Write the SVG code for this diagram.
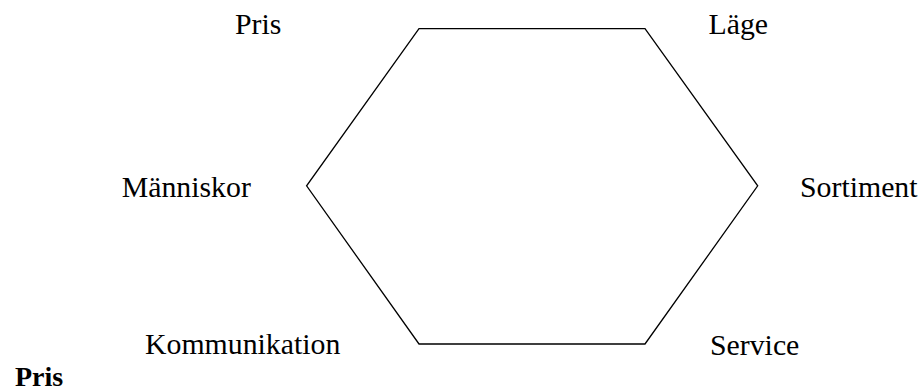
<svg xmlns="http://www.w3.org/2000/svg" width="920" height="391" viewBox="0 0 920 391">
<style>
.lbl{font-family:"Liberation Serif","Times New Roman",serif;font-size:29.8px;fill:#000}
.bold{font-weight:bold;font-size:28px}
.hex{fill:none;stroke:#000;stroke-width:1.3;stroke-linejoin:miter}
</style>
<rect width="920" height="391" fill="#fff"/>
<g id="hexagon">
<polygon class="hex" points="419,28.7 645,28.7 757.7,185.8 645,344 419,344 306.6,185.8"/>
</g>
<g id="labels">
<text id="pris" class="lbl" x="235" y="33.5">Pris</text>
<text id="lage" class="lbl" x="708.5" y="33.5">Läge</text>
<text id="manniskor" class="lbl" x="121.7" y="196.8">Människor</text>
<text id="sortiment" class="lbl" x="800" y="196.8">Sortiment</text>
<text id="kommunikation" class="lbl" x="145" y="353.5">Kommunikation</text>
<text id="service" class="lbl" x="710" y="355">Service</text>
<text id="pris-bold" class="lbl bold" x="15" y="386">Pris</text>
</g>
</svg>
